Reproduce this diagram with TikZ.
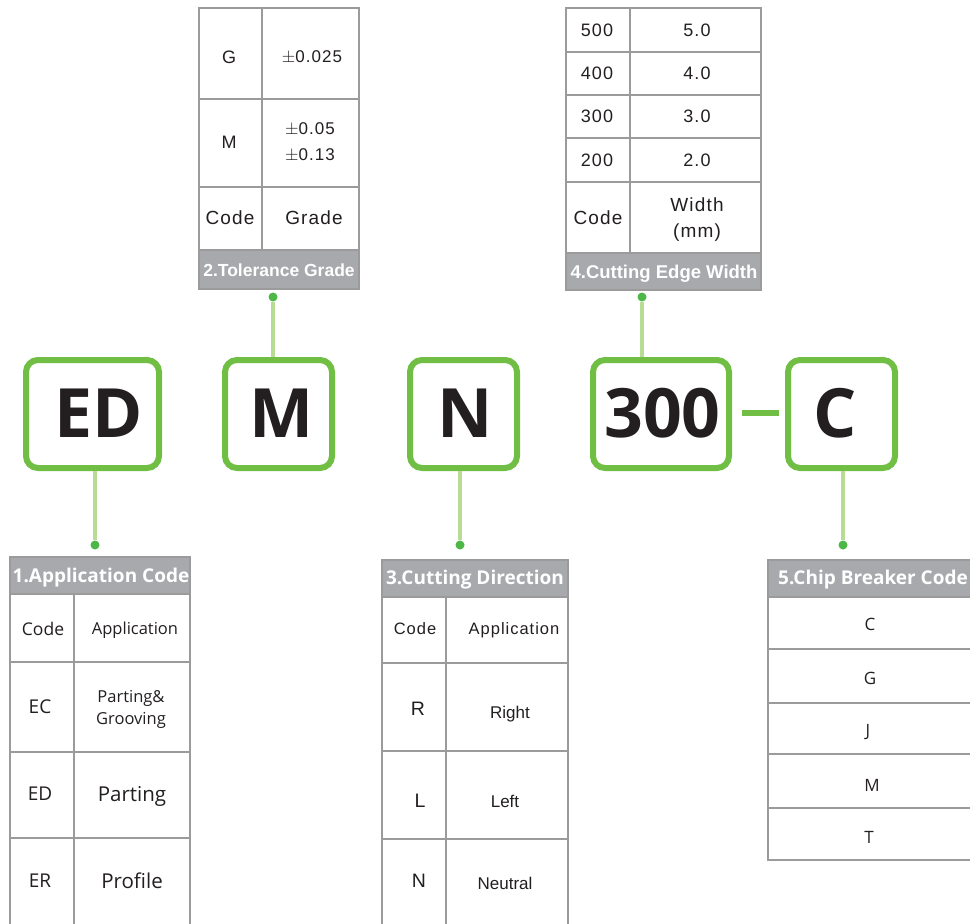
\documentclass[tikz,border=0pt]{standalone}
\usepackage{fontspec}
\newfontfamily\osans{Open Sans}
\newfontfamily\arial{Liberation Sans}
\newfontfamily\arialw[LetterSpace=6]{Liberation Sans}
\definecolor{boxgreen}{HTML}{70BF44}
\definecolor{linkgreen}{HTML}{B7DD95}
\definecolor{dotgreen}{HTML}{4DB848}
\definecolor{gridgray}{HTML}{9B9B9B}
\definecolor{hdrgray}{HTML}{A7A9AC}
\definecolor{txt}{HTML}{231F20}
\begin{document}
\begin{tikzpicture}[x=1pt,y=-1pt,
  codebox/.style={draw=boxgreen,line width=6pt,rounded corners=12pt,minimum height=108pt,inner sep=0pt},
  codetext/.style={inner sep=0pt,anchor=center,text=txt,text height=0.714*68pt,text depth=0pt,
    font=\osans\bfseries\fontsize{68}{68}\selectfont},
  link/.style={draw=linkgreen,line width=4pt},
  dashline/.style={draw=boxgreen,line width=6pt},
  dotnode/.style={circle,fill=dotgreen,inner sep=0pt,minimum size=9pt},
  grid/.style={draw=gridgray,line width=1.2pt},
  cell/.style={inner sep=0pt,anchor=center,text=txt,text depth=0pt},
  hdrA/.style={cell,text=white,text height=0.714*19pt,font=\osans\bfseries\fontsize{19}{19}\selectfont},
  hdrB/.style={cell,text=white,text height=0.716*#1pt,font=\arial\bfseries\fontsize{#1}{#1}\selectfont},
  os/.style={cell,text height=0.714*#1pt,font=\osans\fontsize{#1}{#1}\selectfont},
  ar/.style={cell,text height=0.716*#1pt,font=\arial\fontsize{#1}{#1}\selectfont},
  aw/.style={cell,text height=0.716*#1pt,font=\arialw\fontsize{#1}{#1}\selectfont}]
\useasboundingbox (0,0) rectangle (970,924);
\fill[white] (0,0) rectangle (970,924);

% ---------- code boxes ----------
\node[codebox,minimum width=133pt] (bED) at (92.5,414) {};
\node[codebox,minimum width=107pt] (bM) at (278.5,414) {};
\node[codebox,minimum width=107pt] (bN) at (463.5,414) {};
\node[codebox,minimum width=136pt] (b300) at (661,414) {};
\node[codebox,minimum width=107pt] (bC) at (841.5,414) {};
\node[codetext] (lED) at (99,413) {ED};
\node[codetext] (lM) at (281.5,413) {M};
\node[codetext] (lN) at (465.5,413) {N};
\node[codetext] (l300) at (662.5,413) {300};
\node[codetext] (lC) at (835,413) {C};
\coordinate (dashL) at (742,413);
\coordinate (dashR) at (779,413);
\draw[dashline] (dashL) -- (dashR);

% ---------- dots and links ----------
\node[dotnode] (d1) at (95,545) {};
\node[dotnode] (d2) at (273,297) {};
\node[dotnode] (d3) at (460,545) {};
\node[dotnode] (d4) at (642,297) {};
\node[dotnode] (d5) at (843,545) {};
\draw[link] (d1) -- (d1 |- bED.south);
\draw[link] (d2) -- (d2 |- bM.north);
\draw[link] (d3) -- (d3 |- bN.south);
\draw[link] (d4) -- (d4 |- b300.north);
\draw[link] (d5) -- (d5 |- bC.south);

% ---------- table 2: tolerance grade ----------
\fill[hdrgray] (199,250) rectangle (359,289);
\draw[grid] (199,8) rectangle (359,289);
\draw[grid] (199,99) -- (359,99) (199,187) -- (359,187) (199,250) -- (359,250);
\draw[grid] (262,8) -- (262,250);
\node[aw=18] (t2a) at (229,57) {G};
\node[aw=17] (t2b) at (312,56) {$\pm$0.025};
\node[aw=18] (t2c) at (229,142) {M};
\node[aw=17] (t2d) at (310,128) {$\pm$0.05};
\node[aw=17] (t2e) at (310,154) {$\pm$0.13};
\node[aw=19] (t2f) at (230,218) {Code};
\node[aw=19] (t2g) at (314,218) {Grade};
\node[hdrB=17.5] (t2h) at (279,270) {2.Tolerance Grade};

% ---------- table 4: cutting edge width ----------
\fill[hdrgray] (566,253) rectangle (761,290);
\draw[grid] (566,8) rectangle (761,290);
\draw[grid] (566,52) -- (761,52) (566,95) -- (761,95) (566,138) -- (761,138)
  (566,182) -- (761,182) (566,253) -- (761,253);
\draw[grid] (630,8) -- (630,253);
\node[aw=18] (t4a) at (597,30) {500};
\node[aw=18] (t4b) at (697,30) {5.0};
\node[aw=18] (t4c) at (597,73) {400};
\node[aw=18] (t4d) at (697,73) {4.0};
\node[aw=18] (t4e) at (597,116) {300};
\node[aw=18] (t4f) at (697,116) {3.0};
\node[aw=18] (t4g) at (597,160) {200};
\node[aw=18] (t4h) at (697,160) {2.0};
\node[aw=19] (t4i) at (598,218) {Code};
\node[aw=19] (t4j) at (697,205) {Width};
\node[aw=19] (t4k) at (697,231) {(mm)};
\node[hdrB=18.5] (t4l) at (664,272) {4.Cutting Edge Width};

% ---------- table 1: application code ----------
\fill[hdrgray] (10,557) rectangle (190,594);
\draw[grid] (10,557) rectangle (190,935);
\draw[grid] (10,594) -- (190,594) (10,662) -- (190,662) (10,752) -- (190,752) (10,838) -- (190,838);
\draw[grid] (74,594) -- (74,935);
\node[hdrA] (t1h) at (101,576) {1.Application Code};
\node[os=17.5] (t1a) at (43,629) {Code};
\node[os=16.5] (t1b) at (135,629) {Application};
\node[os=19] (t1c) at (40,707) {EC};
\node[os=16.5] (t1d) at (131,697) {Parting\&};
\node[os=16.5] (t1e) at (131,719) {Grooving};
\node[os=19] (t1f) at (40,794) {ED};
\node[os=20.5] (t1g) at (132,794) {Parting};
\node[os=19] (t1i) at (40,881) {ER};
\node[os=20.5] (t1j) at (132,881) {Profile};

% ---------- table 3: cutting direction ----------
\fill[hdrgray] (382,560) rectangle (568,597);
\draw[grid] (382,560) rectangle (568,935);
\draw[grid] (382,597) -- (568,597) (382,663) -- (568,663) (382,751) -- (568,751) (382,839) -- (568,839);
\draw[grid] (446,597) -- (446,935);
\node[hdrA] (t3h) at (475,578) {3.Cutting Direction};
\node[aw=16.5] (t3a) at (415,629) {Code};
\node[aw=16.5] (t3b) at (514,629) {Application};
\node[ar=19.5] (t3c) at (418,709) {R};
\node[ar=17] (t3d) at (510,712) {Right};
\node[ar=19.5] (t3e) at (420,801) {L};
\node[ar=17] (t3f) at (505,801) {Left};
\node[ar=19.5] (t3g) at (419,881) {N};
\node[ar=17] (t3i) at (505,883) {Neutral};

% ---------- table 5: chip breaker code ----------
\fill[hdrgray] (768,560) rectangle (975,597);
\draw[grid] (975,560) -- (768,560) -- (768,860) -- (975,860);
\draw[grid] (768,597) -- (975,597) (768,649) -- (975,649) (768,703) -- (975,703)
  (768,754) -- (975,754) (768,808) -- (975,808);
\node[hdrA] (t5h) at (873,578) {5.Chip Breaker Code};
\node[os=17] (t5a) at (870,624) {C};
\node[os=17] (t5b) at (870,678) {G};
\node[os=17] (t5c) at (868,730) {J};
\node[os=17] (t5d) at (872,785) {M};
\node[os=17] (t5e) at (869,837) {T};
\end{tikzpicture}
\end{document}
